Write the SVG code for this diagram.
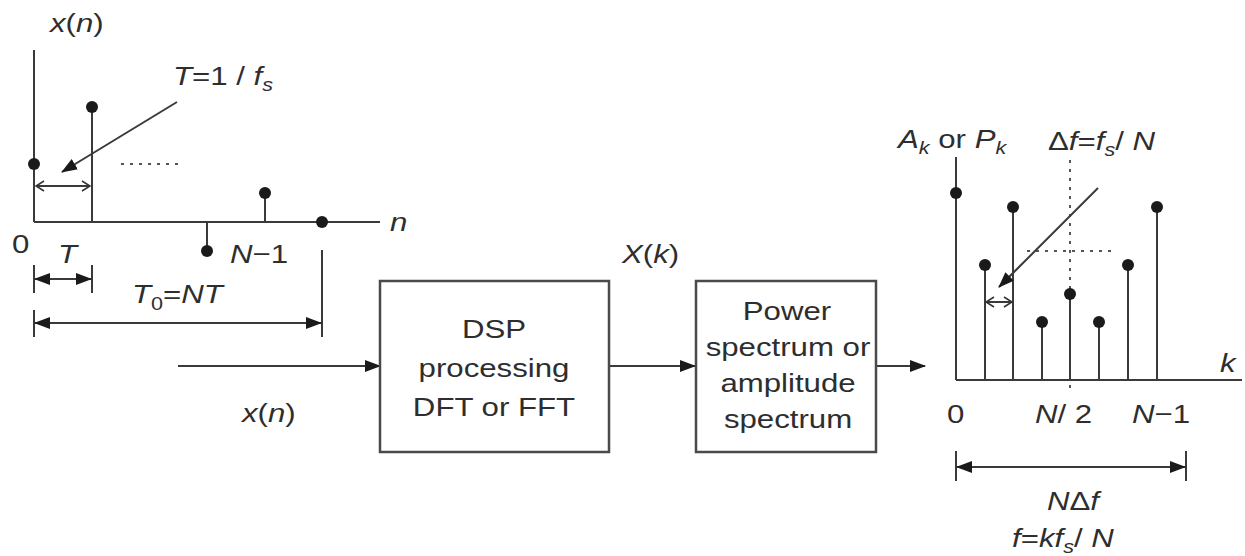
<svg xmlns="http://www.w3.org/2000/svg" width="1245" height="556" viewBox="0 0 1245 556">
<style>
.ln{stroke:#3a3a3a;stroke-width:2;fill:none}
.dot{fill:#1a1a1a}
.dash{stroke:#555;stroke-width:2;stroke-dasharray:3,6;fill:none}
.t{font-family:"Liberation Sans",Arial,sans-serif;font-size:26px;fill:#2e2e2e}
.i{font-style:italic}
.n{font-style:normal}
.c{text-anchor:middle}
.sub{font-size:18px}
.box{fill:#fff;stroke:#4a4a4a;stroke-width:2.5}
</style>
<defs>
<marker id="ah" markerWidth="16" markerHeight="12" refX="15" refY="6" orient="auto" markerUnits="userSpaceOnUse"><path d="M0,0 L16,6 L0,12 Z" fill="#1a1a1a"/></marker>
<marker id="ahs" markerWidth="16" markerHeight="12" refX="1" refY="6" orient="auto" markerUnits="userSpaceOnUse"><path d="M16,0 L0,6 L16,12 Z" fill="#1a1a1a"/></marker>
<marker id="oh" markerWidth="10" markerHeight="12" refX="9" refY="6" orient="auto" markerUnits="userSpaceOnUse"><path d="M1,1 L9,6 L1,11" fill="none" stroke="#333" stroke-width="1.5"/></marker>
<marker id="ohs" markerWidth="10" markerHeight="12" refX="1" refY="6" orient="auto" markerUnits="userSpaceOnUse"><path d="M9,1 L1,6 L9,11" fill="none" stroke="#333" stroke-width="1.5"/></marker>
</defs>

<g id="time-plot">
<line class="ln" x1="34" y1="50" x2="34" y2="222"/>
<line class="ln" x1="34" y1="222" x2="380" y2="222"/>
<line class="ln" x1="92" y1="107" x2="92" y2="222"/>
<line class="ln" x1="265" y1="193" x2="265" y2="222"/>
<line class="ln" x1="207" y1="222" x2="207" y2="251"/>
<circle class="dot" cx="34" cy="164" r="6"/>
<circle class="dot" cx="92" cy="107" r="6"/>
<circle class="dot" cx="265" cy="193" r="6"/>
<circle class="dot" cx="207" cy="251" r="6"/>
<circle class="dot" cx="322" cy="222" r="6"/>
<line class="dash" x1="121" y1="164" x2="182" y2="164"/>
<line class="ln" x1="36" y1="186" x2="90" y2="186" marker-start="url(#ohs)" marker-end="url(#oh)"/>
<line class="ln" x1="177" y1="102" x2="62" y2="172" marker-end="url(#ah)"/>
<text class="t i" transform="translate(50,32) scale(1.2,1)">x<tspan class="n">(</tspan>n<tspan class="n">)</tspan></text>
<text class="t i" transform="translate(173,85) scale(1.2,1)">T<tspan class="n">=1 / </tspan>f<tspan class="sub" dy="6">s</tspan></text>
<text class="t i" transform="translate(390,231) scale(1.2,1)">n</text>
<text class="t" transform="translate(12,253) scale(1.2,1)">0</text>
<text class="t i" transform="translate(58,263) scale(1.2,1)">T</text>
<text class="t i" transform="translate(230,263) scale(1.2,1)">N<tspan class="n">−1</tspan></text>
<line class="ln" x1="34" y1="265" x2="34" y2="293"/>
<line class="ln" x1="92" y1="265" x2="92" y2="293"/>
<line class="ln" x1="35" y1="279" x2="91" y2="279" marker-start="url(#ahs)" marker-end="url(#ah)"/>
<line class="ln" x1="322" y1="250" x2="322" y2="337"/>
<text class="t i" transform="translate(132,303) scale(1.2,1)">T<tspan class="sub n" dy="7">0</tspan><tspan class="n" dy="-7">=</tspan>NT</text>
<line class="ln" x1="34" y1="310" x2="34" y2="337"/>
<line class="ln" x1="35" y1="323" x2="321" y2="323" marker-start="url(#ahs)" marker-end="url(#ah)"/>
</g>

<g id="connectors">
<line class="ln" x1="178" y1="366" x2="380" y2="366" marker-end="url(#ah)"/>
<line class="ln" x1="609" y1="366" x2="695" y2="366" marker-end="url(#ah)"/>
<line class="ln" x1="876" y1="366" x2="925" y2="366" marker-end="url(#ah)"/>
<text class="t i" transform="translate(242,422) scale(1.2,1)">x<tspan class="n">(</tspan>n<tspan class="n">)</tspan></text>
<text class="t i" transform="translate(622,263) scale(1.2,1)">X<tspan class="n">(</tspan>k<tspan class="n">)</tspan></text>
</g>

<g id="dsp">
<rect class="box" x="380" y="281" width="229" height="171"/>
<text class="t c" transform="translate(494,338) scale(1.2,1)">DSP</text>
<text class="t c" transform="translate(494,377) scale(1.2,1)">processing</text>
<text class="t c" transform="translate(494,416) scale(1.2,1)">DFT or FFT</text>
</g>

<g id="power">
<rect class="box" x="696" y="281" width="180" height="171"/>
<text class="t c" transform="translate(787,320) scale(1.2,1)">Power</text>
<text class="t c" transform="translate(788,356) scale(1.2,1)">spectrum or</text>
<text class="t c" transform="translate(788,392) scale(1.2,1)">amplitude</text>
<text class="t c" transform="translate(788,428) scale(1.2,1)">spectrum</text>
</g>

<g id="spectrum-plot">
<line class="dash" x1="1070" y1="160" x2="1070" y2="390"/>
<line class="dash" x1="1027" y1="251" x2="1117" y2="251"/>
<line class="ln" x1="956" y1="157" x2="956" y2="380"/>
<line class="ln" x1="956" y1="380" x2="1242" y2="380"/>
<line class="ln" x1="985" y1="265" x2="985" y2="380"/>
<line class="ln" x1="1013" y1="207" x2="1013" y2="380"/>
<line class="ln" x1="1042" y1="322" x2="1042" y2="380"/>
<line class="ln" x1="1070" y1="294" x2="1070" y2="380"/>
<line class="ln" x1="1099" y1="322" x2="1099" y2="380"/>
<line class="ln" x1="1128" y1="265" x2="1128" y2="380"/>
<line class="ln" x1="1157" y1="207" x2="1157" y2="380"/>
<circle class="dot" cx="956" cy="193" r="6"/>
<circle class="dot" cx="985" cy="265" r="6"/>
<circle class="dot" cx="1013" cy="207" r="6"/>
<circle class="dot" cx="1042" cy="322" r="6"/>
<circle class="dot" cx="1070" cy="294" r="6"/>
<circle class="dot" cx="1099" cy="322" r="6"/>
<circle class="dot" cx="1128" cy="265" r="6"/>
<circle class="dot" cx="1157" cy="207" r="6"/>
<line class="ln" x1="1098" y1="188" x2="999" y2="287" marker-end="url(#ah)"/>
<line class="ln" x1="986" y1="302" x2="1012" y2="302" marker-start="url(#ohs)" marker-end="url(#oh)"/>
<text class="t i" transform="translate(898,148) scale(1.2,1)">A<tspan class="sub" dy="6">k</tspan><tspan class="n" dy="-6"> or </tspan>P<tspan class="sub" dy="6">k</tspan></text>
<text class="t i" transform="translate(1048,150) scale(1.2,1)"><tspan class="n">Δ</tspan>f<tspan class="n">=</tspan>f<tspan class="sub" dy="6">s</tspan><tspan class="n" dy="-6">/ </tspan>N</text>
<text class="t i" transform="translate(1220,372) scale(1.2,1)">k</text>
<text class="t" transform="translate(947,423) scale(1.2,1)">0</text>
<text class="t i" transform="translate(1035,423) scale(1.2,1)">N<tspan class="n">/ 2</tspan></text>
<text class="t i" transform="translate(1132,423) scale(1.2,1)">N<tspan class="n">−1</tspan></text>
<line class="ln" x1="956" y1="451" x2="956" y2="481"/>
<line class="ln" x1="1186" y1="451" x2="1186" y2="481"/>
<line class="ln" x1="957" y1="467" x2="1185" y2="467" marker-start="url(#ahs)" marker-end="url(#ah)"/>
<text class="t i c" transform="translate(1073,510) scale(1.2,1)">N<tspan class="n">Δ</tspan>f</text>
<text class="t i" transform="translate(1012,547) scale(1.2,1)">f<tspan class="n">=</tspan>kf<tspan class="sub" dy="6">s</tspan><tspan class="n" dy="-6">/ </tspan>N</text>
</g>
</svg>
